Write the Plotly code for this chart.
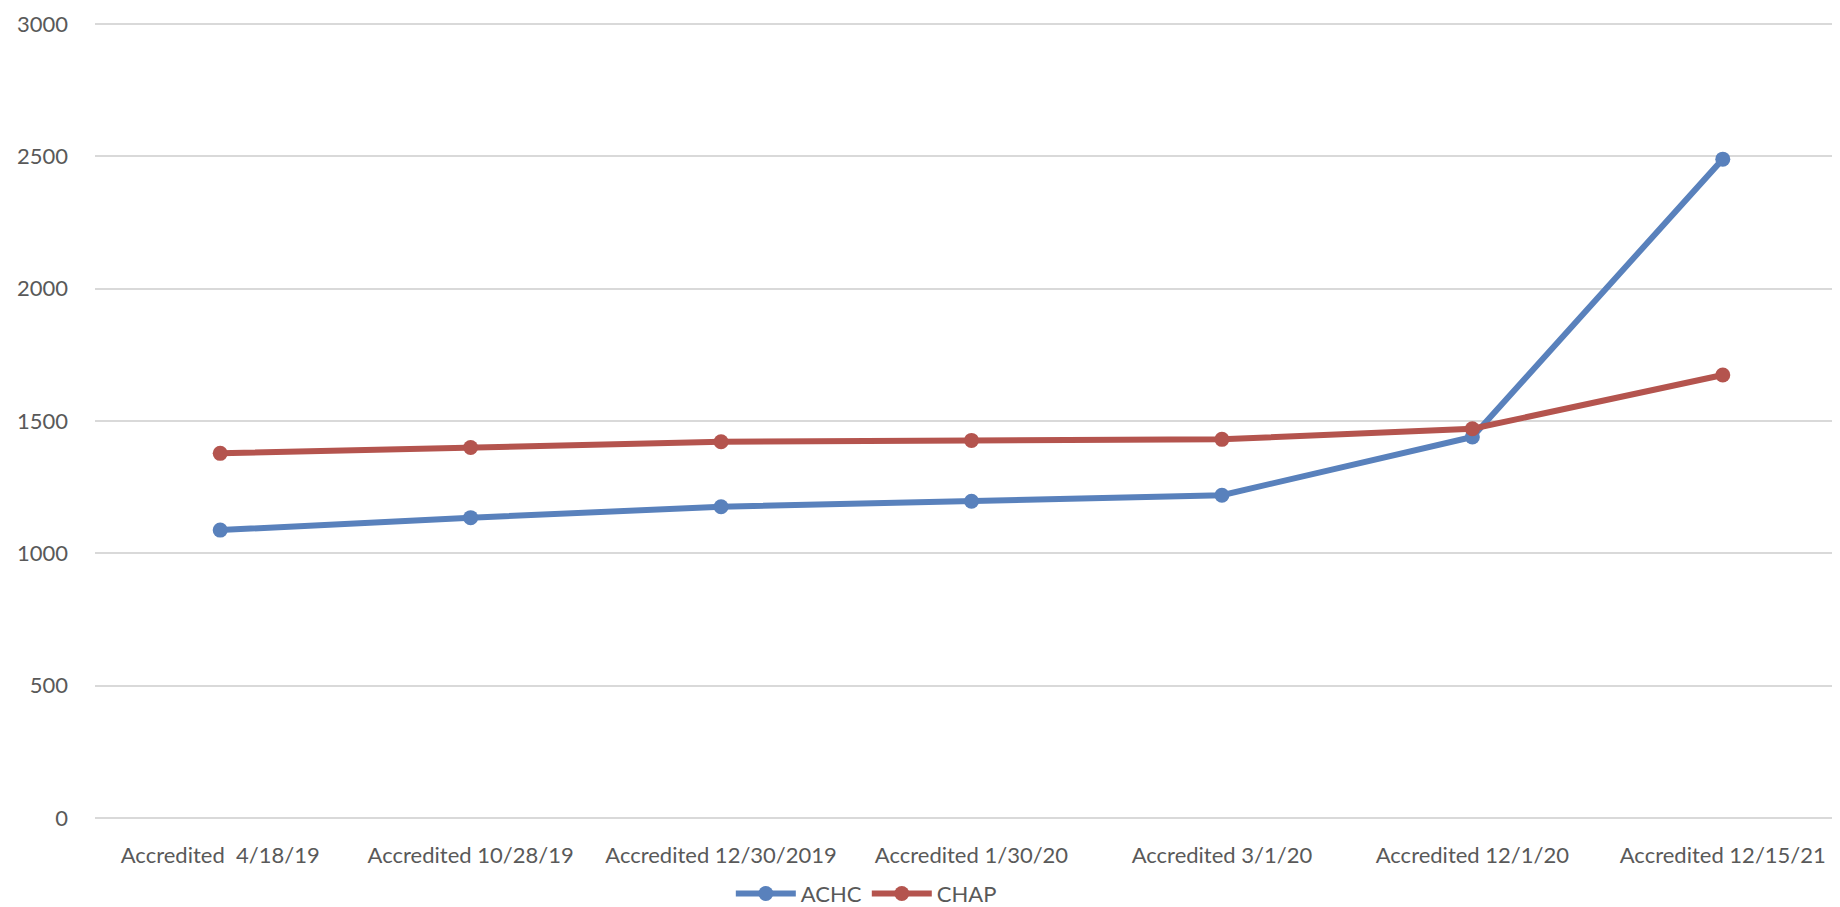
import plotly.graph_objects as go

categories = ["Accredited  4/18/19", "Accredited 10/28/19", "Accredited 12/30/2019",
              "Accredited 1/30/20", "Accredited 3/1/20", "Accredited 12/1/20",
              "Accredited 12/15/21"]
achc = [1088, 1135, 1176, 1197, 1220, 1440, 2490]
chap = [1378, 1400, 1422, 1427, 1431, 1471, 1674]
y_ticks = [0, 500, 1000, 1500, 2000, 2500, 3000]

FONT = "Lato, Noto Sans, sans-serif"

fig = go.Figure()
fig.add_trace(go.Scatter(x=categories, y=achc, name="ACHC", mode="lines+markers",
                         line=dict(color="#5981BC", width=6),
                         marker=dict(color="#5981BC", size=15)))
fig.add_trace(go.Scatter(x=categories, y=chap, name="CHAP", mode="lines+markers",
                         line=dict(color="#B4544E", width=6),
                         marker=dict(color="#B4544E", size=15)))

fig.update_layout(
    width=1840, height=907,
    margin=dict(l=87, r=0, t=13, b=91),
    plot_bgcolor="white", paper_bgcolor="white",
    font=dict(family=FONT, size=22, color="#595959"),
    showlegend=True,
    legend=dict(orientation="h", x=0.44, xanchor="center", y=-0.095, yanchor="middle",
                font=dict(size=22, color="#595959"), itemwidth=60,
                bgcolor="rgba(0,0,0,0)"),
    xaxis=dict(type="category", range=[-0.5, 6.5], showgrid=False, showline=False,
               ticks="", ticklabelstandoff=22, tickfont=dict(size=22)),
    yaxis=dict(range=[0, 3012], tickvals=y_ticks, showgrid=True, gridcolor="#D9D9D9",
               gridwidth=2, zeroline=True, zerolinecolor="#D9D9D9", zerolinewidth=2,
               showline=False, ticks="", ticklabelstandoff=26, tickfont=dict(size=22)),
)

fig.write_html("out.html")
